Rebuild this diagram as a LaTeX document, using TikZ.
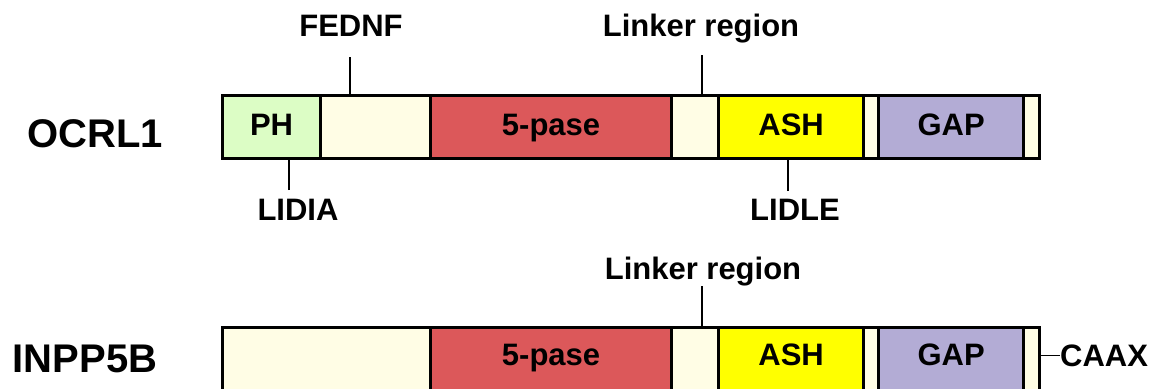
\documentclass[tikz,border=0pt]{standalone}
\usepackage{fontspec}
\setmainfont{Liberation Sans}
\definecolor{phgreen}{RGB}{220,253,197}
\definecolor{cream}{RGB}{255,253,229}
\definecolor{pasered}{RGB}{220,88,90}
\definecolor{ashyellow}{RGB}{255,255,0}
\definecolor{gappurple}{RGB}{179,172,213}
\begin{document}
\begin{tikzpicture}[x=1pt,y=-1pt,
  dom/.style={draw=black, line width=3.2pt, inner sep=0pt, anchor=north west},
  dtext/.style={inner sep=0pt, anchor=base, font=\fontsize{31}{36}\selectfont\bfseries},
  lbl/.style={inner sep=0pt, anchor=base, font=\fontsize{31}{36}\selectfont\bfseries},
  prot/.style={inner sep=0pt, anchor=base, font=\fontsize{40}{46}\selectfont\bfseries},
  tick/.style={draw=black, line width=1.8pt},
  thinline/.style={draw=black, line width=1.5pt}]
\useasboundingbox (0,0) rectangle (1158,388);
\clip (0,0) rectangle (1158,388);

% ---- OCRL1 domain bar ----
\node[dom, fill=phgreen,    minimum width=98pt,  minimum height=63pt] (ph)  at (221,94) {};
\node[dom, fill=cream,      minimum width=110pt, minimum height=63pt] (c1)  at (319,94) {};
\node[dom, fill=pasered,    minimum width=241pt, minimum height=63pt] (p5)  at (429,94) {};
\node[dom, fill=cream,      minimum width=47pt,  minimum height=63pt] (c2)  at (670,94) {};
\node[dom, fill=ashyellow,  minimum width=145pt, minimum height=63pt] (ash) at (717,94) {};
\node[dom, fill=cream,      minimum width=15pt,  minimum height=63pt] (c3)  at (862,94) {};
\node[dom, fill=gappurple,  minimum width=145pt, minimum height=63pt] (gap) at (877,94) {};
\node[dom, fill=cream,      minimum width=16pt,  minimum height=63pt] (c4)  at (1022,94) {};

\node[dtext] (phT)  at (ph.center  |- 0,135) {PH};
\node[dtext] (p5T)  at (p5.center  |- 0,135) {5-pase};
\node[dtext] (ashT) at (ash.center |- 0,135) {ASH};
\node[dtext] (gapT) at (gap.center |- 0,135) {GAP};

\node[prot] (ocrl) at (95,147.5) {OCRL1};

% motifs and linker of OCRL1
\node[lbl] (fednf)  at (351,36)  {FEDNF};
\node[lbl] (linkA)  at (701,36)  {Linker region};
\node[lbl] (lidia)  at (298,220) {LIDIA};
\node[lbl] (lidle)  at (795,220) {LIDLE};

\coordinate (tF) at (350,57);
\coordinate (tL) at (702,55);
\coordinate (tI) at (289,190);
\coordinate (tE) at (788,191);
\draw[tick] (tF) -- (tF |- c1.north);
\draw[tick] (tL) -- (tL |- c2.north);
\draw[tick] (tI) -- (tI |- ph.south);
\draw[tick] (tE) -- (tE |- ash.south);

% ---- INPP5B domain bar ----
\node[dom, fill=cream,      minimum width=208pt, minimum height=66pt] (b1)   at (221,326) {};
\node[dom, fill=pasered,    minimum width=241pt, minimum height=66pt] (bp5)  at (429,326) {};
\node[dom, fill=cream,      minimum width=47pt,  minimum height=66pt] (bc2)  at (670,326) {};
\node[dom, fill=ashyellow,  minimum width=145pt, minimum height=66pt] (bash) at (717,326) {};
\node[dom, fill=cream,      minimum width=15pt,  minimum height=66pt] (bc3)  at (862,326) {};
\node[dom, fill=gappurple,  minimum width=145pt, minimum height=66pt] (bgap) at (877,326) {};
\node[dom, fill=cream,      minimum width=16pt,  minimum height=66pt] (bc4)  at (1022,326) {};

\node[dtext] (bp5T)  at (bp5.center  |- 0,365) {5-pase};
\node[dtext] (bashT) at (bash.center |- 0,365) {ASH};
\node[dtext] (bgapT) at (bgap.center |- 0,365) {GAP};

\node[prot] (inpp) at (85,372) {INPP5B};

\node[lbl] (linkB) at (703,279) {Linker region};
\coordinate (tB) at (702,286);
\draw[tick] (tB) -- (tB |- bc2.north);

\node[lbl, anchor=base west] (caax) at (1060,366) {CAAX};
\draw[thinline] (caax.west) -- (caax.west -| bc4.east);
\end{tikzpicture}
\end{document}
